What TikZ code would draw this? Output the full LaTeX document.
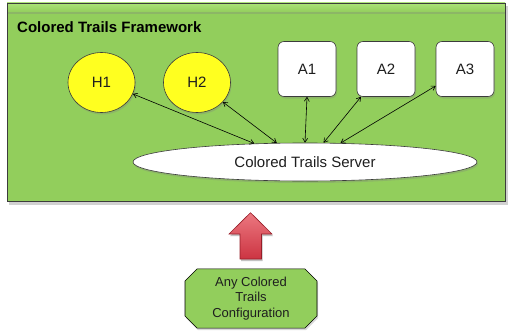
\documentclass[tikz,border=0pt]{standalone}
\usepackage{fontspec}
\setmainfont{Liberation Sans}
\usetikzlibrary{shapes.geometric,shapes.misc,shadows,arrows.meta}
\definecolor{frameGreen}{RGB}{146,206,92}
\definecolor{frameTop}{RGB}{172,226,120}
\definecolor{boxGreen}{RGB}{146,206,92}
\definecolor{hYellow}{RGB}{255,255,32}
\definecolor{edgeGray}{RGB}{60,60,60}
\definecolor{textGray}{RGB}{30,30,30}
\definecolor{arrowRedTop}{RGB}{236,120,128}
\definecolor{arrowRedBot}{RGB}{204,52,66}
\definecolor{arrowRedEdge}{RGB}{150,30,40}
\tikzset{
  shade/.style={drop shadow={shadow xshift=1pt,shadow yshift=-2pt,opacity=0.3}},
  human/.style={ellipse,draw=edgeGray,line width=0.6pt,fill=hYellow,minimum width=67pt,minimum height=60pt,inner sep=0pt,text=textGray,font=\fontsize{15}{17}\selectfont,shade},
  agent/.style={rectangle,rounded corners=6pt,draw=edgeGray,line width=0.6pt,fill=white,minimum width=58pt,minimum height=55pt,inner sep=0pt,text=textGray,font=\fontsize{15}{17}\selectfont,shade},
  server/.style={ellipse,draw=edgeGray,line width=0.6pt,fill=white,minimum width=344pt,minimum height=38pt,inner sep=0pt,text=textGray,font=\fontsize{15}{17}\selectfont,shade},
  config/.style={chamfered rectangle,chamfered rectangle xsep=6pt,chamfered rectangle ysep=6pt,draw=black,line width=0.6pt,fill=boxGreen,minimum width=132pt,minimum height=59pt,inner sep=2pt,align=center,text=textGray,font=\fontsize{13}{15.5}\selectfont,shade},
  link/.style={{Straight Barb[length=4pt,width=5pt]}-{Straight Barb[length=4pt,width=5pt]},line width=0.6pt,black}
}
\begin{document}
\begin{tikzpicture}[x=1pt,y=-1pt]
\useasboundingbox (0,0) rectangle (510,334);
% framework frame
\fill[black,opacity=0.18] (9,6) rectangle (508,205);
\fill[frameGreen] (7,3) rectangle (505,201);
\shade[top color=frameTop,bottom color=frameGreen] (7,3) rectangle (505,12);
\draw[edgeGray,line width=0.7pt] (7,3) rectangle (505,201);
\node[anchor=west,inner sep=0pt,font=\bfseries\fontsize{15}{17}\selectfont] (title) at (17,27) {Colored Trails Framework};
% nodes
\node[human] (h1) at (101.5,82.5) {H1};
\node[human] (h2) at (197,82.5) {H2};
\node[agent] (a1) at (307,69) {A1};
\node[agent] (a2) at (386,69) {A2};
\node[agent] (a3) at (465,69) {A3};
\node[server] (srv) at (305,162) {Colored Trails Server};
% links
\draw[link] (h1.-20) -- (srv.160.8);
\draw[link] (h2.-37) -- (srv.146.2);
\draw[link] (a1.south) -- (srv.north);
\draw[link] (a2.-132) -- (srv.46.4);
\draw[link] (a3.-150) -- (srv.28);
% configuration
\node[config] (cfg) at (251,298.5) {Any Colored\\Trails\\Configuration};
% red arrow
\shade[top color=arrowRedTop,bottom color=arrowRedBot,draw=arrowRedEdge,line width=0.6pt,drop shadow={shadow xshift=1pt,shadow yshift=-2pt,opacity=0.25}]
  (250.5,212.7) -- (272,234) -- (261.5,234) -- (261.5,259) -- (240,259) -- (240,234) -- (229,234) -- cycle;
\end{tikzpicture}
\end{document}
